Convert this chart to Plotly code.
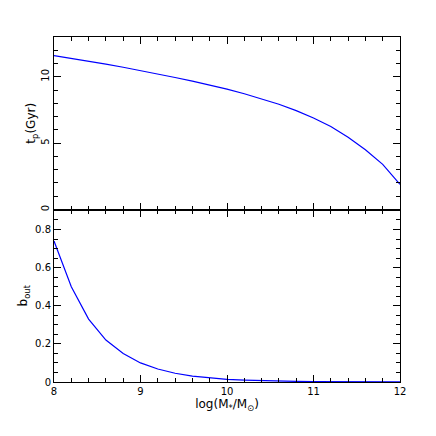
import plotly.graph_objects as go
from plotly.subplots import make_subplots

logm = [8.0, 8.2, 8.4, 8.6, 8.8, 9.0, 9.2, 9.4, 9.6, 9.8, 10.0, 10.2, 10.4, 10.6, 10.8, 11.0,
        11.2, 11.4, 11.6, 11.8, 12.0]
t_p = [11.6, 11.4, 11.2, 10.95, 10.72, 10.48, 10.22, 9.95, 9.67, 9.38, 9.07, 8.72, 8.35,
       7.93, 7.45, 6.9, 6.25, 5.45, 4.5, 3.4, 1.9]
b_out = [0.74, 0.50, 0.33, 0.22, 0.15, 0.10, 0.068, 0.046, 0.031, 0.021, 0.014, 0.010,
         0.007, 0.005, 0.0035, 0.0025, 0.0018, 0.0013, 0.0009, 0.0006, 0.0004]

fig = make_subplots(rows=2, cols=1, shared_xaxes=True, vertical_spacing=0)
line = dict(color="#0000ff", width=1.2)
fig.add_trace(go.Scatter(x=logm, y=t_p, mode="lines", line=line), row=1, col=1)
fig.add_trace(go.Scatter(x=logm, y=b_out, mode="lines", line=line), row=2, col=1)

ax = dict(showgrid=False, zeroline=False, showline=True, linecolor="black", linewidth=1,
          mirror="allticks", ticks="inside", ticklen=7, tickcolor="black",
          minor=dict(ticks="inside", ticklen=4, tickcolor="black"))
fig.update_xaxes(range=[8, 12], dtick=1, minor_dtick=0.2, **ax)
fig.update_xaxes(title_text="log(M<sub>*</sub>/M<sub>⊙</sub>)", title_standoff=2, row=2, col=1)
fig.update_yaxes(range=[0, 13], dtick=5, minor_dtick=1, tickangle=-90,
                 title_text="t<sub>p</sub>(Gyr)", title_standoff=0, row=1, col=1, **ax)
fig.update_yaxes(range=[0, 0.905], dtick=0.2, minor_dtick=0.05,
                 title_text="b<sub>out</sub>", title_standoff=4, row=2, col=1, **ax)

fig.update_layout(width=436, height=436, showlegend=False,
                  margin=dict(l=46, r=44, t=29, b=62),
                  plot_bgcolor="white", paper_bgcolor="white",
                  font=dict(family="DejaVu Sans", size=10, color="black"))
fig.write_html("out.html")
